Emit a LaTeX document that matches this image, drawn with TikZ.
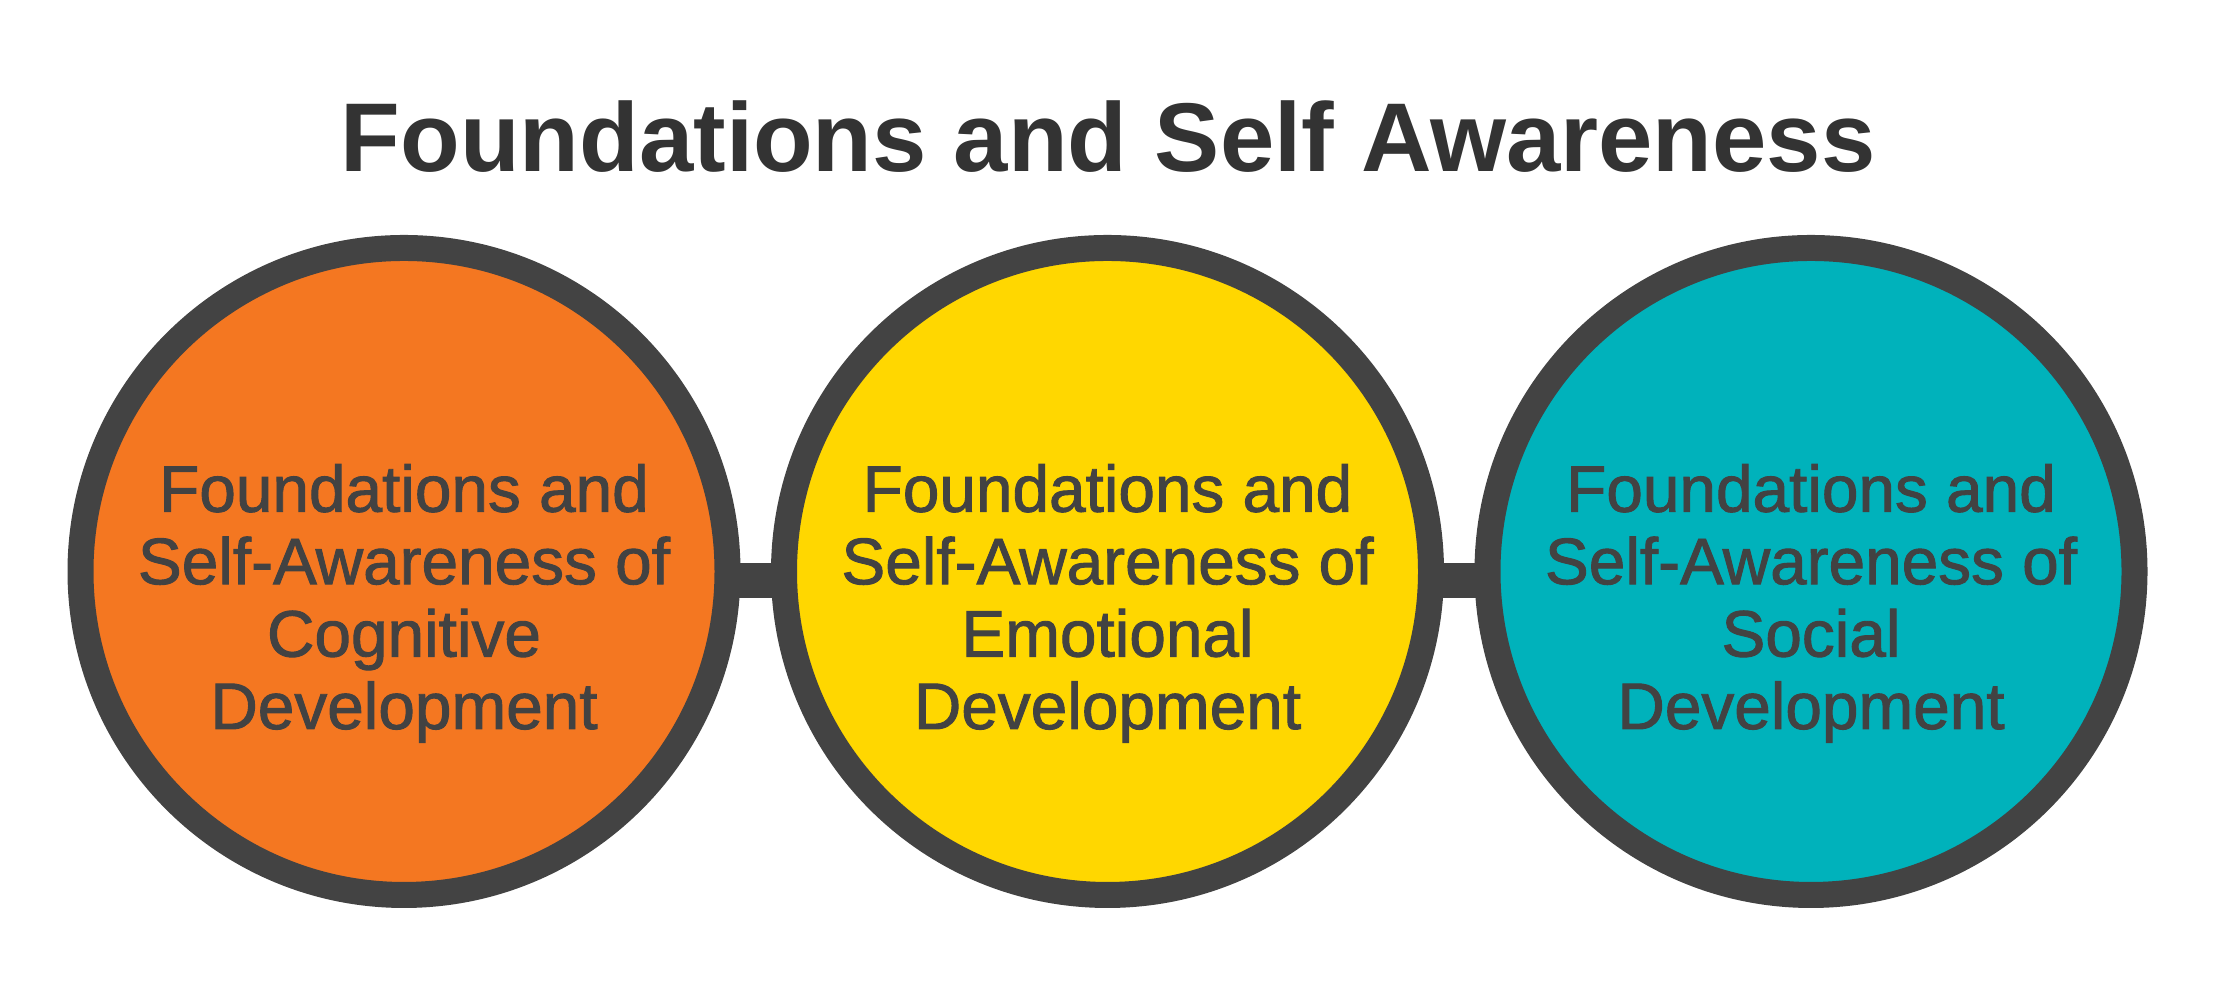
\documentclass[tikz,border=0pt]{standalone}
\usepackage{fontspec}
\setmainfont{Liberation Sans}
\newfontfamily\circfont[FakeBold=1.4]{Liberation Sans}
\usepackage{xcolor}
\usetikzlibrary{positioning, calc}

\definecolor{ringgray}{HTML}{434343}
\definecolor{txtgray}{HTML}{424242}
\definecolor{headgray}{HTML}{333333}
\definecolor{cogorange}{HTML}{F47721}
\definecolor{emoyellow}{HTML}{FFD700}
\definecolor{socteal}{HTML}{00B2BB}

\begin{document}
\begin{tikzpicture}[
  ring/.style={circle, draw=ringgray, line width=0.26cm, minimum size=6.47cm, inner sep=0pt},
  lab/.style={text=txtgray, align=center, anchor=base, font=\circfont\fontsize{18.7}{20.6}\selectfont},
  head/.style={text=headgray, anchor=base, font=\bfseries\fontsize{27.8}{33}\selectfont},
  link/.style={draw=ringgray, line width=0.35cm, shorten <=-0.05cm, shorten >=-0.05cm}
]
\useasboundingbox (0,0) rectangle (22.14,10);
\node[head] (title) at (11.08,8.28) {Foundations and Self Awareness};

\node[ring, fill=cogorange] (cog) at (4.04,4.285) {};
\node[ring, fill=emoyellow] (emo) at (11.075,4.285) {};
\node[ring, fill=socteal] (soc) at (18.11,4.285) {};

\draw[link] ([yshift=-0.09cm]cog.east) -- ([yshift=-0.09cm]emo.west);
\draw[link] ([yshift=-0.09cm]emo.east) -- ([yshift=-0.09cm]soc.west);

\node[lab] (cogtxt) at (4.04,2.71) {Foundations and\\Self-Awareness of\\Cognitive\\Development};
\node[lab] (emotxt) at (11.075,2.71) {Foundations and\\Self-Awareness of\\Emotional\\Development};
\node[lab] (soctxt) at (18.11,2.71) {Foundations and\\Self-Awareness of\\Social\\Development};
\end{tikzpicture}
\end{document}
